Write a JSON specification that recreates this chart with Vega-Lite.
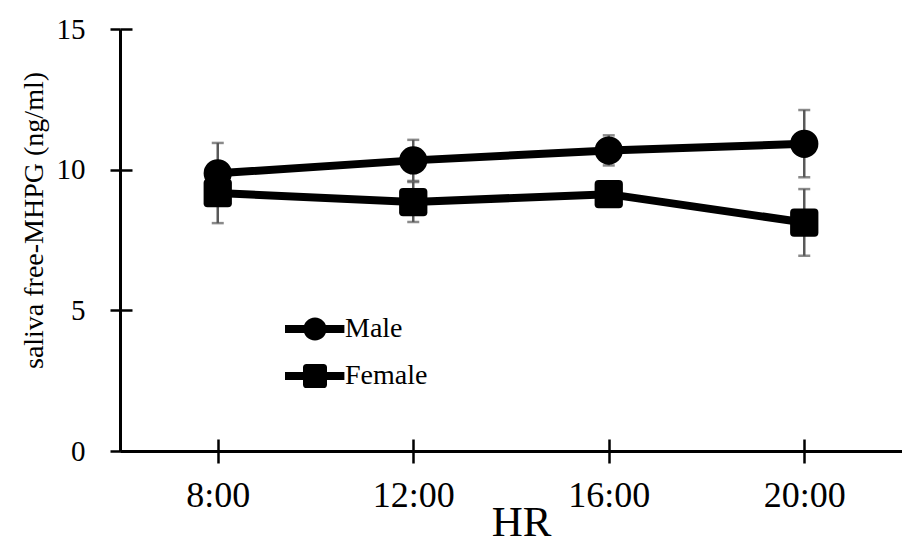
{
  "$schema": "https://vega.github.io/schema/vega-lite/v6.json",
  "width": 782,
  "height": 422,
  "padding": {"left": 120, "top": 29, "right": 0, "bottom": 87},
  "autosize": {"type": "none"},
  "background": "white",
  "config": {
    "view": {"stroke": null},
    "font": "Liberation Serif",
    "axis": {"labelFont": "Liberation Serif", "titleFont": "Liberation Serif"},
    "legend": {"labelFont": "Liberation Serif", "titleFont": "Liberation Serif"}
  },
  "data": {"values": [
    {"hr": "8:00", "sex": "Male", "mean": 9.87, "lo": 8.8, "hi": 10.95},
    {"hr": "12:00", "sex": "Male", "mean": 10.33, "lo": 9.6, "hi": 11.06},
    {"hr": "16:00", "sex": "Male", "mean": 10.68, "lo": 10.15, "hi": 11.22},
    {"hr": "20:00", "sex": "Male", "mean": 10.92, "lo": 9.73, "hi": 12.12},
    {"hr": "8:00", "sex": "Female", "mean": 9.17, "lo": 8.1, "hi": 10.24},
    {"hr": "12:00", "sex": "Female", "mean": 8.85, "lo": 8.14, "hi": 9.56},
    {"hr": "16:00", "sex": "Female", "mean": 9.13, "lo": 8.75, "hi": 9.5},
    {"hr": "20:00", "sex": "Female", "mean": 8.12, "lo": 6.94, "hi": 9.31}
  ]},
  "resolve": {"axis": {"x": "independent", "y": "independent"}, "scale": {"shape": "independent"}},
  "layer": [
    {
      "mark": {"type": "rule", "color": "#595959", "strokeWidth": 2.5},
      "encoding": {
        "x": {"field": "hr", "type": "ordinal", "scale": {"type": "point", "padding": 0.5, "domain": ["8:00", "12:00", "16:00", "20:00"]},
          "axis": {"orient": "bottom", "domainWidth": 3, "domainColor": "black", "tickColor": "black", "tickWidth": 2.5, "tickSize": 12,
            "labelFont": "Liberation Serif", "labelFontSize": 36, "labelColor": "black", "labelPadding": 15, "labelAngle": 0, "grid": false,
            "title": "HR", "titleFont": "Liberation Serif", "titleFontSize": 43, "titleFontWeight": "normal", "titleColor": "black",
            "titleX": 401, "titleY": 84, "titleBaseline": "alphabetic", "titleAlign": "center"}},
        "y": {"field": "lo", "type": "quantitative", "scale": {"domain": [0, 15], "nice": false, "zero": true},
          "axis": {"orient": "left", "values": [0, 5, 10, 15], "domainWidth": 3, "domainColor": "black", "tickColor": "black", "tickWidth": 2.5, "tickSize": 10,
            "labelFont": "Liberation Serif", "labelFontSize": 29, "labelColor": "black", "labelPadding": 25, "grid": false,
            "title": "saliva  free-MHPG (ng/ml)", "titleFont": "Liberation Serif", "titleFontSize": 28, "titleFontWeight": "normal", "titleColor": "black",
            "titleX": -78, "titleY": 191, "titleAngle": -90, "titleAlign": "center", "titleBaseline": "alphabetic"}},
        "y2": {"field": "hi"}
      }
    },
    {
      "mark": {"type": "tick", "color": "#595959", "size": 12, "thickness": 2.5},
      "encoding": {
        "x": {"field": "hr", "type": "ordinal", "axis": null},
        "y": {"field": "lo", "type": "quantitative", "axis": null}
      }
    },
    {
      "mark": {"type": "tick", "color": "#595959", "size": 12, "thickness": 2.5},
      "encoding": {
        "x": {"field": "hr", "type": "ordinal", "axis": null},
        "y": {"field": "hi", "type": "quantitative", "axis": null}
      }
    },
    {
      "mark": {"type": "line", "color": "black", "strokeWidth": 8},
      "encoding": {
        "x": {"field": "hr", "type": "ordinal",
          "axis": {"orient": "bottom", "domain": false, "labels": false, "title": null, "grid": false, "tickSize": -12, "tickWidth": 2.5, "tickColor": "black"}},
        "y": {"field": "mean", "type": "quantitative",
          "axis": {"orient": "left", "values": [0, 5, 10, 15], "domain": false, "labels": false, "title": null, "grid": false, "tickSize": -12, "tickWidth": 2.5, "tickColor": "black"}},
        "detail": {"field": "sex"}
      }
    },
    {
      "mark": {"type": "point", "filled": true, "color": "black", "opacity": 1, "size": 800},
      "encoding": {
        "x": {"field": "hr", "type": "ordinal", "axis": null},
        "y": {"field": "mean", "type": "quantitative", "axis": null},
        "shape": {"field": "sex", "type": "nominal", "legend": null,
          "scale": {"domain": ["Male", "Female"], "range": ["circle", "M-1,-0.72 Q-1,-1 -0.72,-1 L0.72,-1 Q1,-1 1,-0.72 L1,0.72 Q1,1 0.72,1 L-0.72,1 Q-1,1 -1,0.72 Z"]}}
      }
    },
    {
      "mark": {"type": "point", "filled": true, "color": "black", "opacity": 0, "size": 1},
      "encoding": {
        "x": {"field": "hr", "type": "ordinal", "axis": null},
        "y": {"field": "mean", "type": "quantitative", "axis": null},
        "shape": {"field": "sex", "type": "nominal",
          "scale": {"domain": ["Male", "Female"], "range": [
            "M-2.5,-0.33 L-0.9,-0.33 L-0.9,0.33 L-2.5,0.33 Z M0.9,-0.33 L2.45,-0.33 L2.45,0.33 L0.9,0.33 Z M-0.96,0 A0.96,0.96 0 1,1 0.96,0 A0.96,0.96 0 1,1 -0.96,0 Z",
            "M-2.5,-0.33 L-0.95,-0.33 L-0.95,0.33 L-2.5,0.33 Z M0.95,-0.33 L2.45,-0.33 L2.45,0.33 L0.95,0.33 Z M-1,-0.7 Q-1,-1 -0.7,-1 L0.7,-1 Q1,-1 1,-0.7 L1,0.7 Q1,1 0.7,1 L-0.7,1 Q-1,1 -1,0.7 Z"
          ]},
          "legend": {"orient": "none", "legendX": 181, "legendY": 286, "title": null, "padding": 0,
            "symbolSize": 576, "symbolFillColor": "black", "symbolStrokeWidth": 0, "symbolOpacity": 1,
            "labelFont": "Liberation Serif", "labelFontSize": 28, "labelColor": "black", "labelOffset": 16, "rowPadding": 19}}
      }
    }
  ]
}
